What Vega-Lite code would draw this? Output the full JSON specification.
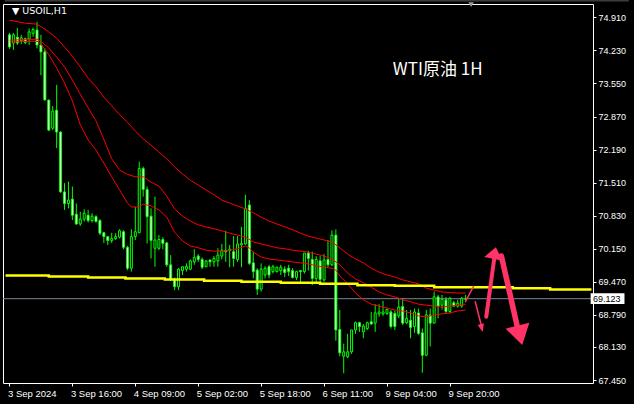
{
  "$schema": "https://vega.github.io/schema/vega-lite/v6.json",
  "width": 590,
  "height": 379,
  "autosize": {"type": "none"},
  "padding": {"left": 3, "top": 4, "right": 41, "bottom": 21},
  "background": "#000000",
  "config": {
    "view": {"stroke": "#FFFFFF", "strokeWidth": 1},
    "font": "Liberation Sans"
  },
  "datasets": {
    "candles": [
      {"i":0,"o":74.55,"h":74.59,"l":74.26,"c":74.30},
      {"i":1,"o":74.38,"h":74.59,"l":74.24,"c":74.55},
      {"i":2,"o":74.50,"h":74.69,"l":74.34,"c":74.38},
      {"i":3,"o":74.43,"h":74.55,"l":74.36,"c":74.49},
      {"i":4,"o":74.47,"h":74.49,"l":74.36,"c":74.39},
      {"i":5,"o":74.46,"h":74.68,"l":74.34,"c":74.61},
      {"i":6,"o":74.58,"h":74.70,"l":74.51,"c":74.66},
      {"i":7,"o":74.65,"h":74.82,"l":74.27,"c":74.34},
      {"i":8,"o":74.34,"h":74.55,"l":73.72,"c":74.20},
      {"i":9,"o":74.20,"h":74.27,"l":73.20,"c":73.21},
      {"i":10,"o":73.21,"h":73.21,"l":72.57,"c":72.59},
      {"i":11,"o":72.63,"h":73.09,"l":72.59,"c":72.98},
      {"i":12,"o":73.00,"h":73.52,"l":72.22,"c":72.55},
      {"i":13,"o":72.55,"h":72.57,"l":71.30,"c":71.32},
      {"i":14,"o":71.32,"h":71.50,"l":70.95,"c":71.08},
      {"i":15,"o":71.08,"h":71.53,"l":70.98,"c":71.15},
      {"i":16,"o":71.17,"h":71.43,"l":70.74,"c":70.84},
      {"i":17,"o":70.86,"h":71.08,"l":70.64,"c":70.66},
      {"i":18,"o":70.66,"h":70.91,"l":70.62,"c":70.76},
      {"i":19,"o":70.76,"h":70.96,"l":70.71,"c":70.88},
      {"i":20,"o":70.84,"h":70.95,"l":70.69,"c":70.73},
      {"i":21,"o":70.73,"h":70.88,"l":70.69,"c":70.82},
      {"i":22,"o":70.81,"h":70.84,"l":70.69,"c":70.71},
      {"i":23,"o":70.73,"h":70.76,"l":70.43,"c":70.47},
      {"i":24,"o":70.48,"h":70.50,"l":70.27,"c":70.40},
      {"i":25,"o":70.40,"h":70.41,"l":70.23,"c":70.32},
      {"i":26,"o":70.32,"h":70.48,"l":70.27,"c":70.36},
      {"i":27,"o":70.36,"h":70.47,"l":70.33,"c":70.40},
      {"i":28,"o":70.39,"h":70.55,"l":70.36,"c":70.52},
      {"i":29,"o":70.50,"h":70.53,"l":70.14,"c":70.18},
      {"i":30,"o":70.18,"h":70.21,"l":69.71,"c":69.75},
      {"i":31,"o":69.75,"h":70.55,"l":69.68,"c":70.40},
      {"i":32,"o":70.40,"h":71.01,"l":70.33,"c":70.50},
      {"i":33,"o":70.48,"h":71.94,"l":70.47,"c":71.80},
      {"i":34,"o":71.80,"h":71.84,"l":71.22,"c":71.37},
      {"i":35,"o":71.37,"h":71.43,"l":70.26,"c":70.81},
      {"i":36,"o":70.82,"h":70.98,"l":69.95,"c":70.32},
      {"i":37,"o":70.16,"h":71.22,"l":69.78,"c":70.33},
      {"i":38,"o":70.16,"h":70.43,"l":70.12,"c":70.34},
      {"i":39,"o":70.34,"h":70.39,"l":70.14,"c":70.26},
      {"i":40,"o":70.27,"h":70.29,"l":69.78,"c":69.82},
      {"i":41,"o":69.82,"h":70.02,"l":69.49,"c":69.52},
      {"i":42,"o":69.52,"h":69.56,"l":69.30,"c":69.37},
      {"i":43,"o":69.37,"h":69.75,"l":69.30,"c":69.73},
      {"i":44,"o":69.70,"h":69.78,"l":69.61,"c":69.78},
      {"i":45,"o":69.73,"h":69.85,"l":69.68,"c":69.79},
      {"i":46,"o":69.73,"h":69.93,"l":69.71,"c":69.90},
      {"i":47,"o":69.88,"h":70.14,"l":69.82,"c":69.97},
      {"i":48,"o":70.00,"h":70.04,"l":69.88,"c":69.93},
      {"i":49,"o":69.93,"h":69.97,"l":69.73,"c":69.77},
      {"i":50,"o":69.78,"h":69.92,"l":69.77,"c":69.90},
      {"i":51,"o":69.92,"h":69.92,"l":69.78,"c":69.88},
      {"i":52,"o":69.88,"h":70.00,"l":69.78,"c":69.95},
      {"i":53,"o":69.90,"h":70.16,"l":69.78,"c":70.02},
      {"i":54,"o":70.00,"h":70.25,"l":69.93,"c":70.12},
      {"i":55,"o":70.12,"h":70.52,"l":69.88,"c":70.09},
      {"i":56,"o":70.11,"h":70.23,"l":69.77,"c":70.14},
      {"i":57,"o":70.09,"h":70.41,"l":69.78,"c":69.95},
      {"i":58,"o":69.93,"h":70.41,"l":69.88,"c":70.25},
      {"i":59,"o":70.23,"h":70.60,"l":69.77,"c":70.26},
      {"i":60,"o":70.25,"h":71.26,"l":70.23,"c":70.98},
      {"i":61,"o":71.05,"h":71.15,"l":69.82,"c":69.85},
      {"i":62,"o":69.86,"h":70.09,"l":69.54,"c":69.68},
      {"i":63,"o":69.71,"h":69.75,"l":69.20,"c":69.32},
      {"i":64,"o":69.32,"h":69.85,"l":69.27,"c":69.73},
      {"i":65,"o":69.61,"h":69.79,"l":69.54,"c":69.75},
      {"i":66,"o":69.78,"h":69.82,"l":69.54,"c":69.61},
      {"i":67,"o":69.68,"h":69.82,"l":69.64,"c":69.78},
      {"i":68,"o":69.68,"h":69.78,"l":69.66,"c":69.77},
      {"i":69,"o":69.70,"h":69.82,"l":69.61,"c":69.77},
      {"i":70,"o":69.73,"h":69.79,"l":69.57,"c":69.66},
      {"i":71,"o":69.75,"h":69.82,"l":69.59,"c":69.68},
      {"i":72,"o":69.70,"h":69.75,"l":69.54,"c":69.56},
      {"i":73,"o":69.56,"h":69.70,"l":69.51,"c":69.68},
      {"i":74,"o":69.70,"h":69.71,"l":69.45,"c":69.68},
      {"i":75,"o":69.68,"h":70.06,"l":69.64,"c":70.06},
      {"i":76,"o":70.06,"h":70.11,"l":69.70,"c":69.95},
      {"i":77,"o":69.93,"h":70.09,"l":69.40,"c":69.54},
      {"i":78,"o":69.54,"h":70.00,"l":69.44,"c":69.93},
      {"i":79,"o":69.90,"h":70.00,"l":69.47,"c":69.52},
      {"i":80,"o":69.51,"h":70.04,"l":69.47,"c":69.92},
      {"i":81,"o":69.93,"h":70.33,"l":69.77,"c":69.82},
      {"i":82,"o":69.82,"h":70.53,"l":69.79,"c":70.43},
      {"i":83,"o":70.43,"h":70.55,"l":68.26,"c":68.48},
      {"i":84,"o":68.49,"h":68.89,"l":67.94,"c":68.01},
      {"i":85,"o":67.94,"h":68.20,"l":67.59,"c":68.03},
      {"i":86,"o":67.93,"h":68.40,"l":67.90,"c":68.03},
      {"i":87,"o":68.03,"h":68.48,"l":67.99,"c":68.48},
      {"i":88,"o":68.48,"h":68.65,"l":68.40,"c":68.63},
      {"i":89,"o":68.63,"h":68.65,"l":68.44,"c":68.55},
      {"i":90,"o":68.44,"h":68.60,"l":68.31,"c":68.56},
      {"i":91,"o":68.51,"h":68.65,"l":68.48,"c":68.63},
      {"i":92,"o":68.65,"h":68.85,"l":68.60,"c":68.60},
      {"i":93,"o":68.62,"h":69.01,"l":68.44,"c":68.83},
      {"i":94,"o":68.81,"h":69.01,"l":68.75,"c":68.85},
      {"i":95,"o":68.81,"h":69.08,"l":68.77,"c":68.85},
      {"i":96,"o":68.82,"h":68.92,"l":68.79,"c":68.90},
      {"i":97,"o":68.85,"h":68.89,"l":68.51,"c":68.55},
      {"i":98,"o":68.82,"h":68.88,"l":68.48,"c":68.55},
      {"i":99,"o":68.77,"h":69.13,"l":68.72,"c":68.95},
      {"i":100,"o":68.96,"h":69.13,"l":68.58,"c":68.62},
      {"i":101,"o":68.63,"h":68.89,"l":68.60,"c":68.72},
      {"i":102,"o":68.68,"h":68.89,"l":68.31,"c":68.53},
      {"i":103,"o":68.55,"h":68.92,"l":68.42,"c":68.85},
      {"i":104,"o":68.83,"h":68.92,"l":68.38,"c":68.41},
      {"i":105,"o":68.42,"h":68.51,"l":67.60,"c":67.96},
      {"i":106,"o":67.96,"h":68.89,"l":67.94,"c":68.79},
      {"i":107,"o":68.79,"h":68.92,"l":68.14,"c":68.62},
      {"i":108,"o":68.62,"h":69.27,"l":68.62,"c":69.16},
      {"i":109,"o":69.16,"h":69.20,"l":68.72,"c":68.97},
      {"i":110,"o":68.99,"h":69.20,"l":68.90,"c":69.11},
      {"i":111,"o":69.10,"h":69.16,"l":68.82,"c":68.86},
      {"i":112,"o":68.86,"h":69.16,"l":68.82,"c":69.13},
      {"i":113,"o":69.04,"h":69.08,"l":68.96,"c":68.97},
      {"i":114,"o":68.97,"h":69.10,"l":68.94,"c":69.03},
      {"i":115,"o":68.97,"h":69.16,"l":68.94,"c":69.13},
      {"i":116,"o":69.11,"h":69.20,"l":69.06,"c":69.123}
    ],
    "ma": [
      {"s":"A","i":0,"p":74.85},{"s":"A","i":4,"p":74.79},{"s":"A","i":7,"p":74.77},{"s":"A","i":8,"p":74.72},
      {"s":"A","i":10,"p":74.61},{"s":"A","i":12,"p":74.48},{"s":"A","i":14,"p":74.30},{"s":"A","i":16,"p":74.11},
      {"s":"A","i":18,"p":73.89},{"s":"A","i":20,"p":73.66},{"s":"A","i":22,"p":73.48},{"s":"A","i":24,"p":73.27},
      {"s":"A","i":26,"p":73.09},{"s":"A","i":28,"p":72.91},{"s":"A","i":30,"p":72.75},{"s":"A","i":32,"p":72.57},
      {"s":"A","i":34,"p":72.41},{"s":"A","i":36,"p":72.28},{"s":"A","i":38,"p":72.14},{"s":"A","i":40,"p":72.00},
      {"s":"A","i":42,"p":71.83},{"s":"A","i":44,"p":71.69},{"s":"A","i":46,"p":71.56},{"s":"A","i":48,"p":71.46},
      {"s":"A","i":50,"p":71.36},{"s":"A","i":52,"p":71.26},{"s":"A","i":54,"p":71.15},{"s":"A","i":56,"p":71.09},
      {"s":"A","i":58,"p":71.03},{"s":"A","i":60,"p":70.97},{"s":"A","i":62,"p":70.89},{"s":"A","i":64,"p":70.80},
      {"s":"A","i":66,"p":70.72},{"s":"A","i":68,"p":70.66},{"s":"A","i":70,"p":70.60},{"s":"A","i":72,"p":70.54},
      {"s":"A","i":74,"p":70.47},{"s":"A","i":76,"p":70.41},{"s":"A","i":78,"p":70.37},{"s":"A","i":80,"p":70.33},
      {"s":"A","i":82,"p":70.29},{"s":"A","i":84,"p":70.17},{"s":"A","i":86,"p":70.04},{"s":"A","i":88,"p":69.94},
      {"s":"A","i":90,"p":69.86},{"s":"A","i":92,"p":69.75},{"s":"A","i":94,"p":69.67},{"s":"A","i":96,"p":69.61},
      {"s":"A","i":98,"p":69.57},{"s":"A","i":100,"p":69.51},{"s":"A","i":102,"p":69.47},{"s":"A","i":104,"p":69.43},
      {"s":"A","i":106,"p":69.34},{"s":"A","i":108,"p":69.30},{"s":"A","i":110,"p":69.26},{"s":"A","i":112,"p":69.25},
      {"s":"A","i":114,"p":69.24},{"s":"A","i":116,"p":69.24},
      {"s":"B","i":0,"p":74.44},{"s":"B","i":7,"p":74.46},{"s":"B","i":8,"p":74.42},{"s":"B","i":10,"p":74.28},
      {"s":"B","i":12,"p":74.09},{"s":"B","i":14,"p":73.89},{"s":"B","i":16,"p":73.62},{"s":"B","i":18,"p":73.33},
      {"s":"B","i":20,"p":73.05},{"s":"B","i":22,"p":72.78},{"s":"B","i":24,"p":72.40},{"s":"B","i":26,"p":72.00},
      {"s":"B","i":28,"p":71.77},{"s":"B","i":30,"p":71.68},{"s":"B","i":32,"p":71.63},{"s":"B","i":34,"p":71.63},
      {"s":"B","i":36,"p":71.52},{"s":"B","i":38,"p":71.44},{"s":"B","i":40,"p":71.23},{"s":"B","i":42,"p":70.97},
      {"s":"B","i":44,"p":70.82},{"s":"B","i":46,"p":70.72},{"s":"B","i":48,"p":70.64},{"s":"B","i":50,"p":70.60},
      {"s":"B","i":52,"p":70.56},{"s":"B","i":54,"p":70.52},{"s":"B","i":56,"p":70.47},{"s":"B","i":58,"p":70.43},
      {"s":"B","i":60,"p":70.39},{"s":"B","i":62,"p":70.29},{"s":"B","i":64,"p":70.25},{"s":"B","i":66,"p":70.21},
      {"s":"B","i":68,"p":70.17},{"s":"B","i":70,"p":70.15},{"s":"B","i":72,"p":70.12},{"s":"B","i":74,"p":70.10},
      {"s":"B","i":76,"p":70.08},{"s":"B","i":78,"p":70.04},{"s":"B","i":80,"p":70.00},{"s":"B","i":82,"p":69.94},
      {"s":"B","i":84,"p":69.82},{"s":"B","i":86,"p":69.65},{"s":"B","i":88,"p":69.53},{"s":"B","i":90,"p":69.45},
      {"s":"B","i":92,"p":69.36},{"s":"B","i":94,"p":69.26},{"s":"B","i":96,"p":69.20},{"s":"B","i":98,"p":69.16},
      {"s":"B","i":100,"p":69.10},{"s":"B","i":102,"p":69.06},{"s":"B","i":104,"p":69.01},{"s":"B","i":106,"p":68.99},
      {"s":"B","i":108,"p":68.97},{"s":"B","i":110,"p":68.95},{"s":"B","i":112,"p":68.97},{"s":"B","i":114,"p":68.99},
      {"s":"B","i":116,"p":69.01},
      {"s":"C","i":0,"p":74.40},{"s":"C","i":7,"p":74.42},{"s":"C","i":8,"p":74.36},{"s":"C","i":10,"p":74.14},
      {"s":"C","i":12,"p":73.87},{"s":"C","i":14,"p":73.56},{"s":"C","i":16,"p":73.19},{"s":"C","i":18,"p":72.70},
      {"s":"C","i":20,"p":72.39},{"s":"C","i":22,"p":72.18},{"s":"C","i":24,"p":71.91},{"s":"C","i":26,"p":71.63},
      {"s":"C","i":28,"p":71.36},{"s":"C","i":30,"p":71.09},{"s":"C","i":31,"p":71.01},{"s":"C","i":33,"p":71.01},
      {"s":"C","i":34,"p":71.07},{"s":"C","i":36,"p":71.03},{"s":"C","i":38,"p":70.95},{"s":"C","i":40,"p":70.80},
      {"s":"C","i":42,"p":70.49},{"s":"C","i":44,"p":70.31},{"s":"C","i":46,"p":70.21},{"s":"C","i":48,"p":70.17},
      {"s":"C","i":50,"p":70.12},{"s":"C","i":52,"p":70.10},{"s":"C","i":54,"p":70.10},{"s":"C","i":56,"p":70.12},
      {"s":"C","i":58,"p":70.15},{"s":"C","i":60,"p":70.21},{"s":"C","i":61,"p":70.17},{"s":"C","i":62,"p":70.08},
      {"s":"C","i":64,"p":69.98},{"s":"C","i":66,"p":69.94},{"s":"C","i":68,"p":69.92},{"s":"C","i":70,"p":69.90},
      {"s":"C","i":72,"p":69.88},{"s":"C","i":74,"p":69.86},{"s":"C","i":76,"p":69.84},{"s":"C","i":78,"p":69.80},
      {"s":"C","i":80,"p":69.77},{"s":"C","i":82,"p":69.75},{"s":"C","i":83,"p":69.71},{"s":"C","i":84,"p":69.59},
      {"s":"C","i":86,"p":69.43},{"s":"C","i":88,"p":69.24},{"s":"C","i":90,"p":69.10},{"s":"C","i":92,"p":69.01},
      {"s":"C","i":94,"p":68.97},{"s":"C","i":96,"p":68.93},{"s":"C","i":98,"p":68.89},{"s":"C","i":100,"p":68.87},
      {"s":"C","i":102,"p":68.83},{"s":"C","i":104,"p":68.77},{"s":"C","i":106,"p":68.75},{"s":"C","i":108,"p":68.79},
      {"s":"C","i":110,"p":68.81},{"s":"C","i":112,"p":68.83},{"s":"C","i":114,"p":68.87},{"s":"C","i":116,"p":68.89}
    ],
    "yellow": [
      {"i":-1,"p":69.60},{"i":10,"p":69.58},{"i":20,"p":69.56},{"i":29.5,"p":69.54},
      {"i":39.5,"p":69.52},{"i":49.5,"p":69.49},{"i":59,"p":69.47},{"i":69,"p":69.45},
      {"i":79,"p":69.43},{"i":88.5,"p":69.40},{"i":98,"p":69.39},{"i":108,"p":69.36},
      {"i":118,"p":69.36},{"i":128,"p":69.34},{"i":137.5,"p":69.31},{"i":148,"p":69.31}
    ],
    "strokes": [
      {"k":"thin","i":115.95,"p":69.06,"i2":118.05,"p2":69.38},
      {"k":"thin","i":118.45,"p":69.06,"i2":120.1,"p2":68.54},
      {"k":"up","i":121.25,"p":68.75,"i2":123.3,"p2":69.96},
      {"k":"down","i":125.1,"p":70.0,"i2":129.5,"p2":68.42}
    ]
  },
  "resolve": {"axis": {"x": "independent", "y": "independent"}},
  "layer": [
    {
      "data": {"name": "candles"},
      "mark": {"type": "rule", "color": "#00FF00", "strokeWidth": 1},
      "encoding": {
        "x": {
          "field": "i", "type": "quantitative",
          "scale": {"domain": [-0.375, 147.125], "nice": false, "zero": false},
          "axis": {
            "title": null, "grid": false, "domain": false, "zindex": 1,
            "labelColor": "#FFFFFF", "tickColor": "#FFFFFF",
            "values": [0, 16, 32, 48, 64, 80, 96, 112],
            "labelExpr": "['3 Sep 2024','3 Sep 16:00','4 Sep 09:00','5 Sep 02:00','5 Sep 18:00','6 Sep 11:00','9 Sep 04:00','9 Sep 20:00'][round(datum.value / 16)]",
            "labelAlign": "left", "labelBaseline": "top", "labelFontSize": 9.5, "labelFont": "Liberation Sans",
            "labelPadding": 2, "labelOffset": -2, "tickSize": 3,
            "labelFlush": false, "labelOverlap": false, "labelBound": false
          }
        },
        "y": {
          "field": "l", "type": "quantitative",
          "scale": {"domain": [67.389, 75.184], "nice": false, "zero": false},
          "axis": {
            "title": null, "grid": false, "domain": false, "zindex": 1, "orient": "right",
            "labelColor": "#FFFFFF", "tickColor": "#FFFFFF",
            "values": [74.91, 74.23, 73.55, 72.87, 72.19, 71.51, 70.83, 70.15, 69.47, 68.79, 68.13, 67.45],
            "format": ".3f", "labelAlign": "left", "labelBaseline": "middle", "labelFontSize": 9, "labelFont": "Liberation Sans",
            "labelPadding": 2, "tickSize": 3,
            "labelFlush": false, "labelOverlap": false, "labelBound": false
          }
        },
        "y2": {"field": "h"}
      }
    },
    {
      "data": {"values": [{}]},
      "mark": {"type": "rect", "color": "#3C3C3C"},
      "encoding": {
        "x": {"datum": -1.2, "type": "quantitative", "scale": {"domain": [-0.375, 147.125], "nice": false, "zero": false}, "axis": null},
        "x2": {"datum": 157.5},
        "y": {"datum": 75.27, "type": "quantitative", "scale": {"domain": [67.389, 75.184], "nice": false, "zero": false}, "axis": null},
        "y2": {"datum": 75.235}
      }
    },
    {
      "data": {"values": [{"p": 69.123}]},
      "mark": {"type": "rule", "color": "#778899", "strokeWidth": 1},
      "encoding": {
        "y": {"field": "p", "type": "quantitative", "scale": {"domain": [67.389, 75.184], "nice": false, "zero": false}, "axis": null}
      }
    },
    {
      "data": {"name": "candles"},
      "mark": {"type": "bar", "size": 2, "stroke": "#00FF00", "strokeWidth": 1},
      "encoding": {
        "x": {"field": "i", "type": "quantitative", "scale": {"domain": [-0.375, 147.125], "nice": false, "zero": false}, "axis": null},
        "y": {"field": "o", "type": "quantitative", "scale": {"domain": [67.389, 75.184], "nice": false, "zero": false}, "axis": null},
        "y2": {"field": "c"},
        "fill": {"condition": {"test": "datum.o > datum.c", "value": "#FFFFFF"}, "value": "#000000"}
      }
    },
    {
      "data": {"name": "ma"},
      "mark": {"type": "line", "color": "#FF0000", "strokeWidth": 1},
      "encoding": {
        "x": {"field": "i", "type": "quantitative", "scale": {"domain": [-0.375, 147.125], "nice": false, "zero": false}, "axis": null},
        "y": {"field": "p", "type": "quantitative", "scale": {"domain": [67.389, 75.184], "nice": false, "zero": false}, "axis": null},
        "detail": {"field": "s"}
      }
    },
    {
      "data": {"name": "yellow"},
      "mark": {"type": "line", "color": "#FFFF00", "strokeWidth": 2.5, "interpolate": "step-after", "clip": true},
      "encoding": {
        "x": {"field": "i", "type": "quantitative", "scale": {"domain": [-0.375, 147.125], "nice": false, "zero": false}, "axis": null},
        "y": {"field": "p", "type": "quantitative", "scale": {"domain": [67.389, 75.184], "nice": false, "zero": false}, "axis": null}
      }
    },
    {
      "data": {"name": "strokes"},
      "transform": [{"filter": "datum.k == 'thin'"}],
      "mark": {"type": "rule", "color": "#FF3366", "strokeWidth": 1.5, "strokeCap": "round"},
      "encoding": {
        "x": {"field": "i", "type": "quantitative", "scale": {"domain": [-0.375, 147.125], "nice": false, "zero": false}, "axis": null},
        "y": {"field": "p", "type": "quantitative", "scale": {"domain": [67.389, 75.184], "nice": false, "zero": false}, "axis": null},
        "x2": {"field": "i2"},
        "y2": {"field": "p2"}
      }
    },
    {
      "data": {"name": "strokes"},
      "transform": [{"filter": "datum.k == 'up'"}],
      "mark": {"type": "rule", "color": "#FF3366", "strokeWidth": 4, "strokeCap": "round"},
      "encoding": {
        "x": {"field": "i", "type": "quantitative", "scale": {"domain": [-0.375, 147.125], "nice": false, "zero": false}, "axis": null},
        "y": {"field": "p", "type": "quantitative", "scale": {"domain": [67.389, 75.184], "nice": false, "zero": false}, "axis": null},
        "x2": {"field": "i2"},
        "y2": {"field": "p2"}
      }
    },
    {
      "data": {"name": "strokes"},
      "transform": [{"filter": "datum.k == 'down'"}],
      "mark": {"type": "rule", "color": "#FF3366", "strokeWidth": 5.5, "strokeCap": "round"},
      "encoding": {
        "x": {"field": "i", "type": "quantitative", "scale": {"domain": [-0.375, 147.125], "nice": false, "zero": false}, "axis": null},
        "y": {"field": "p", "type": "quantitative", "scale": {"domain": [67.389, 75.184], "nice": false, "zero": false}, "axis": null},
        "x2": {"field": "i2"},
        "y2": {"field": "p2"}
      }
    },
    {
      "data": {"values": [{}]},
      "mark": {"type": "point", "shape": "M0,-1L1,0.25L-1,0.25Z", "filled": true, "color": "#FF3366", "opacity": 1, "size": 353, "angle": 12},
      "encoding": {
        "x": {"datum": 123.2, "type": "quantitative", "scale": {"domain": [-0.375, 147.125], "nice": false, "zero": false}, "axis": null},
        "y": {"datum": 69.99, "type": "quantitative", "scale": {"domain": [67.389, 75.184], "nice": false, "zero": false}, "axis": null}
      }
    },
    {
      "data": {"values": [{}]},
      "mark": {"type": "point", "shape": "M0,-1L1,0.62L-1,0.62Z", "filled": true, "color": "#FF3366", "opacity": 1, "size": 600, "angle": 166},
      "encoding": {
        "x": {"datum": 129.65, "type": "quantitative", "scale": {"domain": [-0.375, 147.125], "nice": false, "zero": false}, "axis": null},
        "y": {"datum": 68.415, "type": "quantitative", "scale": {"domain": [67.389, 75.184], "nice": false, "zero": false}, "axis": null}
      }
    },
    {
      "data": {"values": [{}]},
      "mark": {"type": "point", "shape": "M0,-1L0.8,1L-0.8,1Z", "filled": true, "color": "#FF3366", "opacity": 1, "size": 64, "angle": 166},
      "encoding": {
        "x": {"datum": 120.1, "type": "quantitative", "scale": {"domain": [-0.375, 147.125], "nice": false, "zero": false}, "axis": null},
        "y": {"datum": 68.52, "type": "quantitative", "scale": {"domain": [67.389, 75.184], "nice": false, "zero": false}, "axis": null}
      }
    },
    {
      "data": {"values": [{}]},
      "mark": {"type": "point", "shape": "triangle-down", "filled": true, "color": "#9A9A9A", "opacity": 1, "size": 30},
      "encoding": {
        "x": {"datum": 117.4, "type": "quantitative", "scale": {"domain": [-0.375, 147.125], "nice": false, "zero": false}, "axis": null},
        "y": {"datum": 75.17, "type": "quantitative", "scale": {"domain": [67.389, 75.184], "nice": false, "zero": false}, "axis": null}
      }
    },
    {
      "data": {"values": [{}]},
      "mark": {"type": "text", "text": "WTI原油 1H", "color": "#FFFFFF", "font": "Noto Sans CJK SC", "fontSize": 17, "align": "center", "baseline": "middle"},
      "encoding": {
        "x": {"datum": 108.9, "type": "quantitative", "scale": {"domain": [-0.375, 147.125], "nice": false, "zero": false}, "axis": null},
        "y": {"datum": 73.83, "type": "quantitative", "scale": {"domain": [67.389, 75.184], "nice": false, "zero": false}, "axis": null}
      }
    },
    {
      "data": {"values": [{}]},
      "mark": {"type": "text", "text": "▼  USOIL,H1", "color": "#FFFFFF", "font": "DejaVu Sans", "fontSize": 9.5, "align": "left", "baseline": "middle"},
      "encoding": {
        "x": {"datum": 0.625, "type": "quantitative", "scale": {"domain": [-0.375, 147.125], "nice": false, "zero": false}, "axis": null},
        "y": {"datum": 75.04, "type": "quantitative", "scale": {"domain": [67.389, 75.184], "nice": false, "zero": false}, "axis": null}
      }
    },
    {
      "data": {"values": [{}]},
      "mark": {"type": "rect", "color": "#FFFFFF"},
      "encoding": {
        "x": {"datum": 147.8, "type": "quantitative", "scale": {"domain": [-0.375, 147.125], "nice": false, "zero": false}, "axis": null},
        "x2": {"datum": 156.4},
        "y": {"datum": 69.233, "type": "quantitative", "scale": {"domain": [67.389, 75.184], "nice": false, "zero": false}, "axis": null},
        "y2": {"datum": 69.013}
      }
    },
    {
      "data": {"values": [{}]},
      "mark": {"type": "text", "text": "69.123", "color": "#000000", "fontSize": 9, "align": "left", "baseline": "middle"},
      "encoding": {
        "x": {"datum": 148.4, "type": "quantitative", "scale": {"domain": [-0.375, 147.125], "nice": false, "zero": false}, "axis": null},
        "y": {"datum": 69.123, "type": "quantitative", "scale": {"domain": [67.389, 75.184], "nice": false, "zero": false}, "axis": null}
      }
    }
  ]
}
